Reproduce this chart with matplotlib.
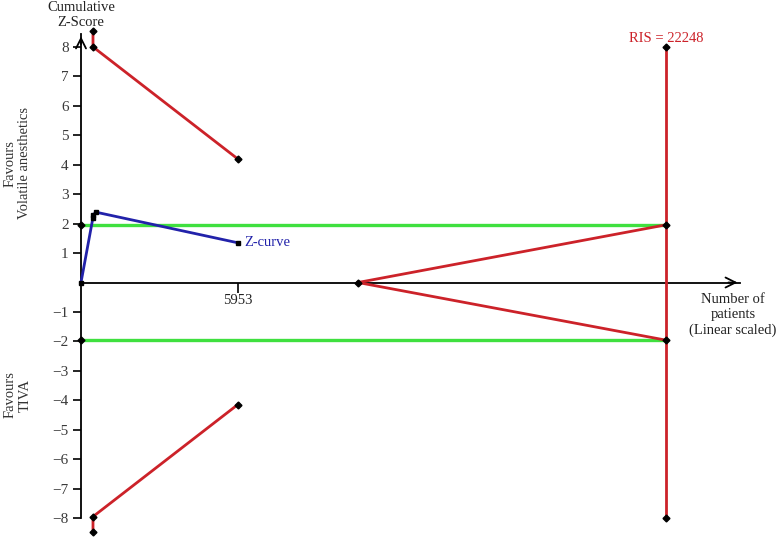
import matplotlib
matplotlib.use("Agg")
import matplotlib.pyplot as plt

plt.rcParams['font.family'] = ['Liberation Serif', 'DejaVu Serif']

# Data
ris = 22248
x_tick = [5953]
y_ticks = [-8, -7, -6, -5, -4, -3, -2, -1, 1, 2, 3, 4, 5, 6, 7, 8]

zcurve_x = [0, 450, 465, 560, 5953]
zcurve_z = [0, 2.18, 2.29, 2.39, 1.35]

upper_bound_x = [456, 456, 5953]
upper_bound_z = [8.53, 8.0, 4.20]
lower_bound_x = [456, 456, 5953]
lower_bound_z = [-8.47, -7.95, -4.15]

conv_x = [0, ris]
conv_upper = [1.96, 1.96]
conv_lower = [-1.96, -1.96]

futility_x = [10530, ris]
futility_upper = [0, 1.96]
futility_lower = [0, -1.96]

ris_line_z = [8.0, -8.0]

RED = '#cc2229'
GREEN = '#3fe03f'
BLUE = '#2222aa'
FS = 10.5
LS = 1.2

fig = plt.figure(figsize=(7.77, 5.38), dpi=100)
ax = fig.add_axes([0, 0, 1, 1])
ax.set_xlim(-81 * 38.01, (777 - 81) * 38.01)
ax.set_ylim(-(538 - 282.5) / 29.45, 282.5 / 29.45)

# spines as axes
for s in ['top', 'right']:
    ax.spines[s].set_visible(False)
ax.spines['left'].set_position(('data', 0))
ax.spines['bottom'].set_position(('data', 0))
ax.spines['left'].set_bounds(-8, 8.45)
ax.spines['bottom'].set_bounds(0, 25050)
ax.spines['left'].set_linewidth(1.3)
ax.spines['bottom'].set_linewidth(1.3)
ax.set_yticks(y_ticks)
ax.set_yticklabels([str(v).replace('-', '\u2212') for v in y_ticks])
ax.set_xticks(x_tick)
ax.set_xticklabels([str(v) for v in x_tick])
ax.tick_params(axis='y', direction='out', length=6, width=1.2, labelsize=FS + 0.5,
               colors='black', labelcolor='#3a3a3a', pad=3)
ax.tick_params(axis='x', direction='out', length=7, width=1.2, labelsize=FS,
               labelcolor='#222222', pad=1)

# arrow heads
ax.annotate('', xy=(0, 8.45), xytext=(0, 8.0),
            arrowprops=dict(arrowstyle='->', lw=1.3, color='black', mutation_scale=18))
ax.annotate('', xy=(25060, 0), xytext=(24500, 0),
            arrowprops=dict(arrowstyle='->', lw=1.3, color='black', mutation_scale=18))

# conventional boundaries
ax.plot(conv_x, conv_upper, color=GREEN, lw=2.4, zorder=2)
ax.plot(conv_x, conv_lower, color=GREEN, lw=2.4, zorder=2)

# RIS line
ax.plot([ris, ris], ris_line_z, color=RED, lw=2, zorder=3)

# monitoring boundaries
ax.plot(upper_bound_x, upper_bound_z, color=RED, lw=2, zorder=3)
ax.plot(lower_bound_x, lower_bound_z, color=RED, lw=2, zorder=3)
ax.plot(futility_x, futility_upper, color=RED, lw=2, zorder=3)
ax.plot(futility_x, futility_lower, color=RED, lw=2, zorder=3)

mk = dict(marker='D', markersize=3.5, color='black', linestyle='none', zorder=5)
ax.plot(upper_bound_x, upper_bound_z, **mk)
ax.plot(lower_bound_x, lower_bound_z, **mk)
ax.plot([ris, ris, ris, ris], [8.0, 1.96, -1.96, -8.0], **mk)
ax.plot([futility_x[0]], [0], **mk)
ax.plot([0, 0], [1.96, -1.96], **mk)

# z-curve
ax.plot(zcurve_x, zcurve_z, color=BLUE, lw=2, zorder=4)
ax.plot(zcurve_x, zcurve_z, marker='s', markersize=3.5, color='black',
        linestyle='none', zorder=5)

# texts
ax.text(zcurve_x[-1] + 250, zcurve_z[-1], 'Z-curve', color=BLUE, fontsize=FS,
        va='center', ha='left')
ax.text(ris, 8.18, 'RIS = 22248', color=RED, fontsize=FS, ha='center', va='baseline')
ax.text(0, 9.57, 'Cumulative\nZ-Score', fontsize=FS, ha='center', va='top',
        linespacing=LS, color='#222222')
ax.text(24780, -1.1, 'Number of\npatients\n(Linear scaled)', fontsize=FS,
        ha='center', va='center', linespacing=LS, color='#222222')
ax.text(-2420, 4.05, 'Favours\nVolatile anesthetics', fontsize=FS, rotation=90,
        ha='center', va='center', linespacing=LS, color='#333333')
ax.text(-2420, -3.82, 'Favours\nTIVA', fontsize=FS, rotation=90,
        ha='center', va='center', linespacing=LS, color='#333333')

fig.savefig('out.png', dpi=100)
